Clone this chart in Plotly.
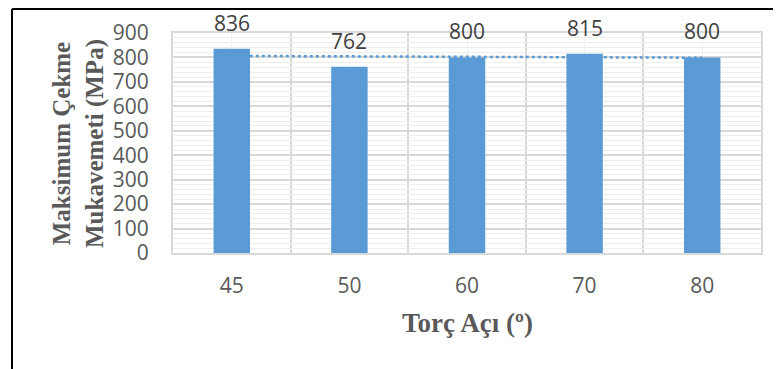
import numpy as np
import plotly.graph_objects as go

categories = ["45", "50", "60", "70", "80"]
values = [836, 762, 800, 815, 800]
y_ticks = [0, 100, 200, 300, 400, 500, 600, 700, 800, 900]

idx = list(range(len(categories)))
slope, intercept = np.polyfit(np.array(idx) + 1, values, 1)
trend = [slope * (i + 1) + intercept for i in idx]

BLUE = "#5b9bd5"
fig = go.Figure()
fig.add_trace(go.Bar(x=idx, y=values, marker=dict(color=BLUE, line=dict(width=0)),
                     width=0.31, showlegend=False, hoverinfo="skip"))
fig.add_trace(go.Scatter(x=idx, y=trend, mode="lines",
                         line=dict(color=BLUE, width=2.5, dash="dot"),
                         showlegend=False, hoverinfo="skip"))

for i, v in zip(idx, values):
    fig.add_annotation(x=i, y=v, text=str(v), showarrow=False, yanchor="bottom",
                       yshift=10, font=dict(family="Open Sans", size=21, color="#404040"))

# page has an 8px body margin; figure coordinates are page - 8
OFF = 8
W, H = 781, 369
L, T = 173 - OFF, 33 - OFF
R = W - (761 - OFF)
B = H - (253 - OFF)
pw, ph = W - L - R, H - T - B

fig.update_layout(
    width=W, height=H,
    margin=dict(l=L, r=R, t=T, b=B),
    paper_bgcolor="white", plot_bgcolor="white",
    xaxis=dict(
        range=[-0.5, len(categories) - 0.5],
        tickmode="array", tickvals=idx, ticktext=categories,
        tickfont=dict(family="Open Sans", size=21, color="#595959"),
        showgrid=True, gridcolor="#efefef", gridwidth=1,
        minor=dict(tickvals=[i - 0.5 for i in idx] + [len(idx) - 0.5],
                   showgrid=True, gridcolor="#d9d9d9", gridwidth=1.5, ticks=""),
        showline=True, linecolor="#d9d9d9", linewidth=2, mirror=True,
        ticks="", ticklabelstandoff=13, zeroline=False,
        automargin=False,
    ),
    yaxis=dict(
        range=[0, 900],
        tickmode="array", tickvals=y_ticks,
        tickfont=dict(family="Open Sans", size=21, color="#595959"),
        showgrid=True, gridcolor="#d9d9d9", gridwidth=1.5,
        minor=dict(dtick=20, showgrid=True, gridcolor="#eeeeee", gridwidth=1, ticks=""),
        showline=True, linecolor="#d9d9d9", linewidth=2, mirror=True,
        ticks="", ticklabelstandoff=18, zeroline=False,
        automargin=False,
    ),
)

fig.add_annotation(xref="paper", yref="paper", x=(467 - 173) / pw, y=(253 - 323) / ph,
                   text="<b>Torç Açı (º)</b>", showarrow=False,
                   xanchor="center", yanchor="middle",
                   font=dict(family="Liberation Serif", size=27, color="#595959"))

fig.add_annotation(xref="paper", yref="paper", x=(78 - 173) / pw, y=(253 - 143) / ph,
                   text="<b>Maksimum Çekme<br>Mukavemeti (MPa)</b>", textangle=-90,
                   showarrow=False, xanchor="center", yanchor="middle",
                   font=dict(family="Liberation Serif", size=25, color="#595959"))

# outer frame (black)
fx0 = (12 - 173) / pw
fy1 = (253 - 9) / ph
fig.add_shape(type="line", xref="paper", yref="paper", x0=fx0, x1=fx0, y0=fy1, y1=-0.8,
              line=dict(color="black", width=2))
fig.add_shape(type="line", xref="paper", yref="paper", x0=fx0, x1=1.2, y0=fy1, y1=fy1,
              line=dict(color="black", width=2))

fig.write_html("out.html")
